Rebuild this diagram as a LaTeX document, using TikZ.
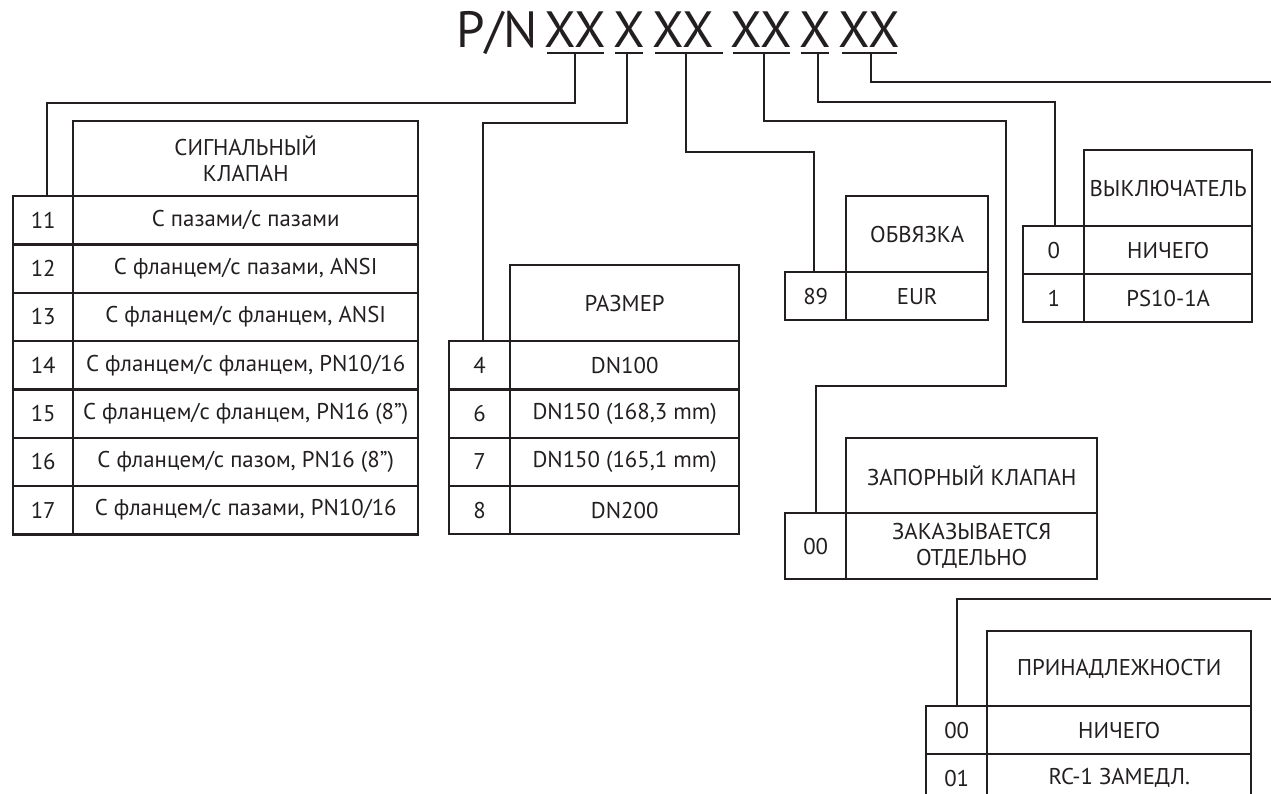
\documentclass[tikz,border=0pt]{standalone}
\usepackage{fontspec}
\setmainfont{PT Sans}
\definecolor{ink}{HTML}{231F20}
\tikzset{
  ln/.style={line width=2.4pt, line join=miter, draw=ink},
  cell/.style={draw=ink, line width=2.4pt, anchor=north west, inner sep=0pt, align=center,
    font=\fontsize{22.8}{26}\selectfont, text=ink},
  ttl/.style={anchor=base, inner sep=0pt, font=\fontsize{51}{51}\selectfont, text=ink},
}
\begin{document}
\begin{tikzpicture}[x=1pt,y=-1pt]
\useasboundingbox (0,0) rectangle (1271,794);
% title
\node[ttl] (t0) at (497,48) {P/N};
\node[ttl] (t1) at (575.5,48) {XX};
\node[ttl] (t2) at (629,48) {X};
\node[ttl] (t3) at (683,48) {XX};
\node[ttl] (t4) at (761.5,48) {XX};
\node[ttl] (t5) at (815,48) {X};
\node[ttl] (t6) at (869.5,48) {XX};
\draw[ln] (547,53) -- (604,53);
\draw[ln] (615,53) -- (643,53);
\draw[ln] (655,53) -- (723,53);
\draw[ln] (733,53) -- (790,53);
\draw[ln] (801,53) -- (829,53);
\draw[ln] (842,53) -- (897,53);
\coordinate (u1) at (575,53);
\coordinate (u2) at (627,53);
\coordinate (u3) at (686,53);
\coordinate (u4) at (764,53);
\coordinate (u5) at (818,53);
\coordinate (u6) at (871,53);
\coordinate (e6) at (1276,82);
\coordinate (e7) at (1276,599);

% signal valve table
\node[cell, minimum width=345pt, minimum height=75pt] (sh) at (72,120) {СИГНАЛЬНЫЙ\\КЛАПАН};
\foreach \c/\t [count=\i from 0] in {11/{С пазами/с пазами},12/{С фланцем/с пазами, ANSI},13/{С фланцем/с фланцем, ANSI},14/{С фланцем/с фланцем, PN10/16},15/{С фланцем/с фланцем, PN16 (8”)},16/{С фланцем/с пазом, PN16 (8”)},17/{С фланцем/с пазами, PN10/16}}{
  \node[cell, minimum width=60pt, minimum height=48.3pt] (s\c) at (12,195+48.3*\i) {\c};
  \node[cell, minimum width=345pt, minimum height=48.3pt] (s\c d) at (72,195+48.3*\i) {\t};
}

% size table
\node[cell, minimum width=229pt, minimum height=76pt] (rh) at (509,264) {РАЗМЕР};
\foreach \c/\t [count=\i from 0] in {4/{DN100},6/{DN150 (168,3 mm)},7/{DN150 (165,1 mm)},8/{DN200}}{
  \node[cell, minimum width=61pt, minimum height=48.25pt] (r\c) at (448,340+48.25*\i) {\c};
  \node[cell, minimum width=229pt, minimum height=48.25pt] (r\c d) at (509,340+48.25*\i) {\t};
}

% trim table
\node[cell, minimum width=142pt, minimum height=76pt] (oh) at (845,195) {ОБВЯЗКА};
\node[cell, minimum width=61pt, minimum height=48pt] (o89) at (784,271) {89};
\node[cell, minimum width=142pt, minimum height=48pt] (o89d) at (845,271) {EUR};

% switch table
\node[cell, minimum width=168pt, minimum height=76pt] (wh) at (1083,149) {ВЫКЛЮЧАТЕЛЬ};
\node[cell, minimum width=61pt, minimum height=48pt] (w0) at (1022,225) {0};
\node[cell, minimum width=168pt, minimum height=48pt] (w0d) at (1083,225) {НИЧЕГО};
\node[cell, minimum width=61pt, minimum height=48pt] (w1) at (1022,273) {1};
\node[cell, minimum width=168pt, minimum height=48pt] (w1d) at (1083,273) {PS10-1A};

% shutoff valve table
\node[cell, minimum width=251pt, minimum height=75pt] (zh) at (845,437) {ЗАПОРНЫЙ КЛАПАН};
\node[cell, minimum width=61pt, minimum height=66pt] (z00) at (784,512) {00};
\node[cell, minimum width=251pt, minimum height=66pt] (z00d) at (845,512) {ЗАКАЗЫВАЕТСЯ\\ОТДЕЛЬНО};

% accessories table
\node[cell, minimum width=264pt, minimum height=75pt] (ah) at (986,630) {ПРИНАДЛЕЖНОСТИ};
\node[cell, minimum width=61pt, minimum height=48pt] (a00) at (925,705) {00};
\node[cell, minimum width=264pt, minimum height=48pt] (a00d) at (986,705) {НИЧЕГО};
\node[cell, minimum width=61pt, minimum height=48pt] (a01) at (925,753) {01};
\node[cell, minimum width=264pt, minimum height=48pt] (a01d) at (986,753) {RC-1 ЗАМЕДЛ.};

% connectors
\draw[ln] (u1) -- (u1 |- 0,103) -| ([xshift=4pt]s11.north);
\draw[ln] (u2) -- (u2 |- 0,123) -| ([xshift=3.5pt]r4.north);
\draw[ln] (u3) -- (u3 |- 0,152) -| ([xshift=-1.5pt]o89.north);
\draw[ln] (u4) -- (u4 |- 0,121) -- (1006,121) -- (1006,386) -| (z00.north);
\draw[ln] (u5) -- (u5 |- 0,102) -| ([xshift=1.5pt]w0.north);
\draw[ln] (u6) |- (e6);
\draw[ln] (e7) -| (a00.north);
\end{tikzpicture}
\end{document}
